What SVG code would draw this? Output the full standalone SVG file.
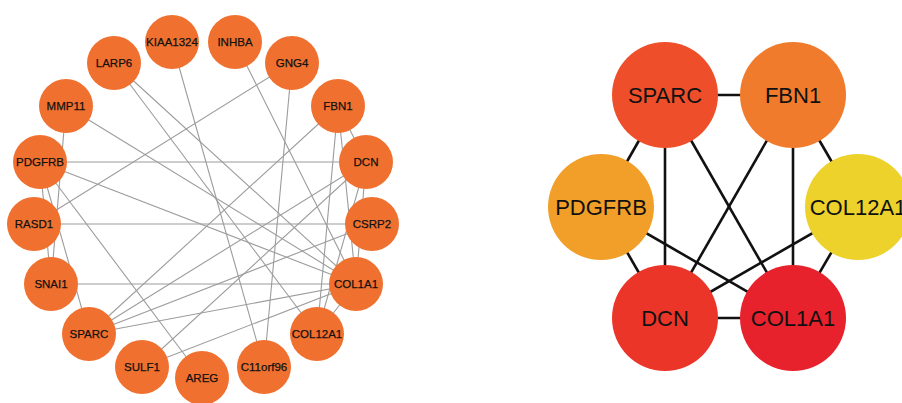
<svg xmlns="http://www.w3.org/2000/svg" width="902" height="403" viewBox="0 0 902 403">
<style>
.bg{fill:#ffffff}
.e1{stroke:#9c9c9c;stroke-width:1.1;fill:none}
.e2{stroke:#111111;stroke-width:2.6;fill:none}
.n1{fill:#F0702F}
.t1{font-family:"Liberation Sans",Arial,sans-serif;font-size:11.5px;fill:#111111;stroke:#111111;stroke-width:0.25;text-anchor:middle;dominant-baseline:central}
.t2{font-family:"Liberation Sans",Arial,sans-serif;font-size:22px;fill:#111111;text-anchor:middle;dominant-baseline:central}
</style>
<rect class="bg" x="0" y="0" width="902" height="403"/>
<g id="connectors-left">
<line class="e1" x1="40" y1="162" x2="366" y2="162"/>
<line class="e1" x1="40" y1="162" x2="356" y2="284"/>
<line class="e1" x1="40" y1="162" x2="202" y2="378"/>
<line class="e1" x1="40" y1="162" x2="89" y2="334"/>
<line class="e1" x1="40" y1="162" x2="51" y2="284"/>
<line class="e1" x1="66" y1="106" x2="356" y2="284"/>
<line class="e1" x1="66" y1="106" x2="51" y2="284"/>
<line class="e1" x1="114" y1="63" x2="317" y2="334"/>
<line class="e1" x1="114" y1="63" x2="356" y2="284"/>
<line class="e1" x1="172" y1="42" x2="264" y2="367"/>
<line class="e1" x1="235" y1="42" x2="356" y2="284"/>
<line class="e1" x1="292" y1="63" x2="264" y2="367"/>
<line class="e1" x1="292" y1="63" x2="34" y2="224"/>
<line class="e1" x1="338" y1="106" x2="89" y2="334"/>
<line class="e1" x1="338" y1="106" x2="366" y2="162"/>
<line class="e1" x1="338" y1="106" x2="356" y2="284"/>
<line class="e1" x1="338" y1="106" x2="317" y2="334"/>
<line class="e1" x1="366" y1="162" x2="356" y2="284"/>
<line class="e1" x1="366" y1="162" x2="317" y2="334"/>
<line class="e1" x1="366" y1="162" x2="89" y2="334"/>
<line class="e1" x1="366" y1="162" x2="142" y2="367"/>
<line class="e1" x1="372" y1="224" x2="34" y2="224"/>
<line class="e1" x1="372" y1="224" x2="89" y2="334"/>
<line class="e1" x1="356" y1="284" x2="51" y2="284"/>
<line class="e1" x1="356" y1="284" x2="89" y2="334"/>
<line class="e1" x1="356" y1="284" x2="142" y2="367"/>
<line class="e1" x1="356" y1="284" x2="317" y2="334"/>
</g>
<g id="connectors-right">
<line class="e2" x1="665" y1="95" x2="793" y2="95"/>
<line class="e2" x1="665" y1="95" x2="601" y2="207"/>
<line class="e2" x1="665" y1="95" x2="665" y2="318"/>
<line class="e2" x1="665" y1="95" x2="793" y2="318"/>
<line class="e2" x1="793" y1="95" x2="665" y2="318"/>
<line class="e2" x1="793" y1="95" x2="793" y2="318"/>
<line class="e2" x1="793" y1="95" x2="858" y2="207"/>
<line class="e2" x1="601" y1="207" x2="665" y2="318"/>
<line class="e2" x1="601" y1="207" x2="793" y2="318"/>
<line class="e2" x1="858" y1="207" x2="665" y2="318"/>
<line class="e2" x1="858" y1="207" x2="793" y2="318"/>
<line class="e2" x1="665" y1="318" x2="793" y2="318"/>
</g>
<g id="n-KIAA1324"><circle class="n1" cx="172" cy="42" r="27"/><text class="t1" x="172" y="42">KIAA1324</text></g>
<g id="n-INHBA"><circle class="n1" cx="235" cy="42" r="27"/><text class="t1" x="235" y="42">INHBA</text></g>
<g id="n-GNG4"><circle class="n1" cx="292" cy="63" r="27"/><text class="t1" x="292" y="63">GNG4</text></g>
<g id="n-FBN1"><circle class="n1" cx="338" cy="106" r="27"/><text class="t1" x="338" y="106">FBN1</text></g>
<g id="n-DCN"><circle class="n1" cx="366" cy="162" r="27"/><text class="t1" x="366" y="162">DCN</text></g>
<g id="n-CSRP2"><circle class="n1" cx="372" cy="224" r="27"/><text class="t1" x="372" y="224">CSRP2</text></g>
<g id="n-COL1A1"><circle class="n1" cx="356" cy="284" r="27"/><text class="t1" x="356" y="284">COL1A1</text></g>
<g id="n-COL12A1"><circle class="n1" cx="317" cy="334" r="27"/><text class="t1" x="317" y="334">COL12A1</text></g>
<g id="n-C11orf96"><circle class="n1" cx="264" cy="367" r="27"/><text class="t1" x="264" y="367">C11orf96</text></g>
<g id="n-AREG"><circle class="n1" cx="202" cy="378" r="27"/><text class="t1" x="202" y="378">AREG</text></g>
<g id="n-SULF1"><circle class="n1" cx="142" cy="367" r="27"/><text class="t1" x="142" y="367">SULF1</text></g>
<g id="n-SPARC"><circle class="n1" cx="89" cy="334" r="27"/><text class="t1" x="89" y="334">SPARC</text></g>
<g id="n-SNAI1"><circle class="n1" cx="51" cy="284" r="27"/><text class="t1" x="51" y="284">SNAI1</text></g>
<g id="n-RASD1"><circle class="n1" cx="34" cy="224" r="27"/><text class="t1" x="34" y="224">RASD1</text></g>
<g id="n-PDGFRB"><circle class="n1" cx="40" cy="162" r="27"/><text class="t1" x="40" y="162">PDGFRB</text></g>
<g id="n-MMP11"><circle class="n1" cx="66" cy="106" r="27"/><text class="t1" x="66" y="106">MMP11</text></g>
<g id="n-LARP6"><circle class="n1" cx="114" cy="63" r="27"/><text class="t1" x="114" y="63">LARP6</text></g>
<g id="h-SPARC"><circle cx="665" cy="95" r="53" fill="#EE4F2A"/><text class="t2" x="665" y="95">SPARC</text></g>
<g id="h-FBN1"><circle cx="793" cy="95" r="53" fill="#F07B2C"/><text class="t2" x="793" y="95">FBN1</text></g>
<g id="h-PDGFRB"><circle cx="601" cy="207" r="53" fill="#F19F29"/><text class="t2" x="601" y="207">PDGFRB</text></g>
<g id="h-COL12A1"><circle cx="858" cy="207" r="53" fill="#ECD22B"/><text class="t2" x="858" y="207">COL12A1</text></g>
<g id="h-DCN"><circle cx="665" cy="318" r="53" fill="#EC3529"/><text class="t2" x="665" y="318">DCN</text></g>
<g id="h-COL1A1"><circle cx="793" cy="318" r="53" fill="#E8222D"/><text class="t2" x="793" y="318">COL1A1</text></g>
</svg>
